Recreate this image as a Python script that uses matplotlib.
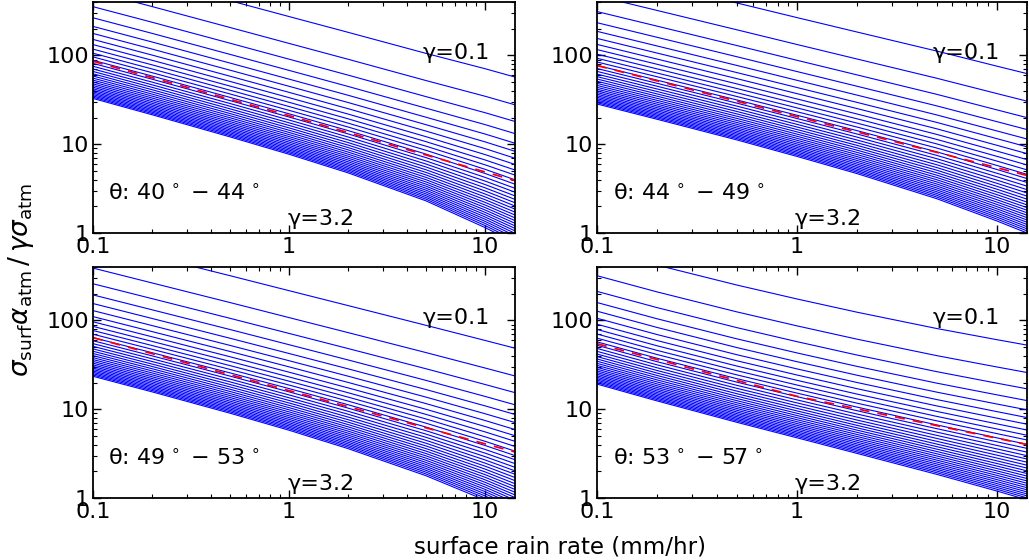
import matplotlib
matplotlib.use("agg")

import matplotlib.pyplot as plt
import numpy as np


rain = [0.1, 0.2, 0.5, 1, 2, 5, 10, 14.2]
gammas = [0.1, 0.2, 0.3, 0.4, 0.5, 0.6, 0.7, 0.8, 0.9, 1.0, 1.1, 1.2, 1.3, 1.4, 1.5, 1.6,
          1.7, 1.8, 1.9, 2.0, 2.1, 2.2, 2.3, 2.4, 2.5, 2.6, 2.7, 2.8, 2.9, 3.0, 3.1, 3.2]

# Curve for gamma = 1.0 and gamma = 3.2 in each incidence-angle bin.
mid_40 = [106, 70.5, 40.6, 26.6, 17.3, 9.5, 5.86, 4.49]
low_40 = [32.8, 21.5, 12.1, 7.71, 4.76, 2.30, 1.15, 0.78]
mid_44 = [93.0, 63.4, 38.1, 25.7, 17.3, 10.1, 6.47, 5.14]
low_44 = [28.4, 19.1, 11.2, 7.30, 4.67, 2.44, 1.37, 1.00]
mid_49 = [77.1, 52.2, 31.0, 20.7, 13.7, 7.76, 4.89, 3.81]
low_49 = [23.5, 15.7, 9.02, 5.80, 3.60, 1.78, 0.946, 0.653]
mid_53 = [63.2, 41.3, 24.4, 16.8, 11.7, 7.41, 5.32, 4.50]
low_53 = [19.2, 12.4, 7.13, 4.77, 3.18, 1.85, 1.20, 0.954]

# Red dashed reference line.
red_rain = [0.1, 1, 14.2]
red_40 = [86, 21, 3.9]
red_44 = [77, 20.5, 4.45]
red_49 = [64, 16.2, 3.3]
red_53 = [54.7, 14, 4.0]

labels = ["40", "44", "49", "53", "57"]

plt.rcParams["font.family"] = ["DejaVu Sans"]
plt.rcParams["mathtext.fontset"] = "dejavusans"

fig = plt.figure(figsize=(10.29, 5.6), dpi=100)
rects = [[0.0904, 0.5839, 0.4101, 0.4125],
         [0.5802, 0.5839, 0.4180, 0.4125],
         [0.0904, 0.1107, 0.4101, 0.4125],
         [0.5802, 0.1107, 0.4180, 0.4125]]
panels = [(mid_40, low_40, red_40), (mid_44, low_44, red_44),
          (mid_49, low_49, red_49), (mid_53, low_53, red_53)]

x = np.array(rain)
for i, (rect, (mid, low, red)) in enumerate(zip(rects, panels)):
    ax = fig.add_axes(rect)
    mid = np.array(mid)
    low = np.array(low)
    for g in gammas:
        # gamma * y varies log-linearly with gamma between the two read curves
        y = mid ** ((3.2 - g) / 2.2) * (3.2 * low) ** ((g - 1.0) / 2.2) / g
        ax.plot(x, y, color="blue", lw=0.8)
    ax.plot(red_rain, red, color="red", lw=1.3, dashes=(5.5, 4.5))

    ax.set_xscale("log")
    ax.set_yscale("log")
    ax.set_xlim(0.1, 14.2)
    ax.set_ylim(1, 400)
    ax.set_xticks([0.1, 1, 10], ["0.1", "1", "10"])
    ax.set_yticks([1, 10, 100], ["1", "10", "100"])
    ax.tick_params(which="both", direction="in", top=True, right=True,
                   labelsize=16, pad=3)
    ax.tick_params(which="major", length=6, width=1)
    ax.tick_params(which="minor", length=3, width=0.8)
    for s in ax.spines.values():
        s.set_linewidth(1.3)

    ax.text(0.78, 0.78, "γ=0.1", transform=ax.transAxes,
            fontsize=16, va="center", ha="left")
    ax.text(0.46, 0.06, "γ=3.2", transform=ax.transAxes,
            fontsize=16, va="center", ha="left")
    ax.text(0.036, 0.17,
            "θ: " + labels[i] + r"$^{\,\circ}$ − " + labels[i + 1] + r"$^{\,\circ}$",
            transform=ax.transAxes, fontsize=16, va="center", ha="left")

fig.text(0.02, 0.5, r"$\sigma_{\rm surf}\alpha_{\rm atm}\,/\,\gamma\sigma_{\rm atm}$",
         rotation=90, fontsize=19, va="center", ha="center")
fig.text(560 / 1029, 1 - 547 / 560, "surface rain rate (mm/hr)",
         fontsize=16.5, va="center", ha="center")

fig.savefig("out.png", dpi=100)
